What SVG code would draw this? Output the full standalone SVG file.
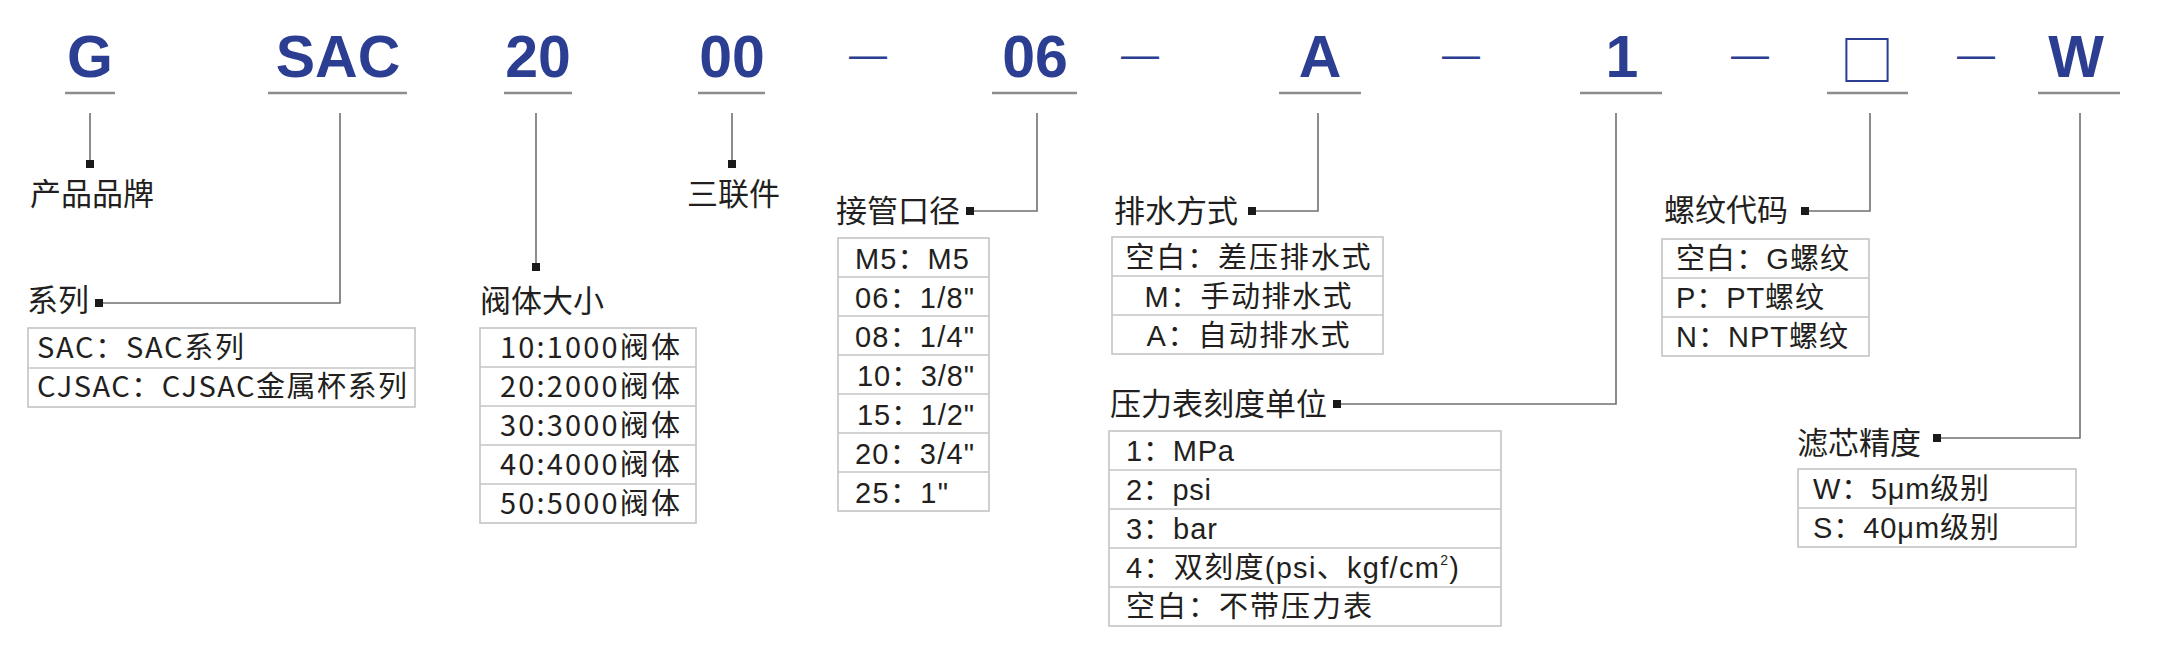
<svg xmlns="http://www.w3.org/2000/svg" width="2180" height="669" viewBox="0 0 2180 669">
<style>
.code{font-family:"Liberation Sans",Arial,sans-serif;font-weight:bold;font-size:59px;fill:#2b3e92;text-anchor:middle}
.dash{font-family:"Liberation Sans",Arial,sans-serif;font-size:38px;fill:#2b3e92;text-anchor:middle}
.box{font-family:"Noto Sans CJK SC",sans-serif;font-size:54px;fill:#2b3e92;text-anchor:middle}
.ul{stroke:#8c8c8c;stroke-width:2.5;fill:none}
.conn{stroke:#707070;stroke-width:1.6;fill:none;marker-end:url(#sq)}
.head{font-family:"Noto Sans CJK SC",sans-serif;font-size:31px;fill:#231f20}
.tbl{fill:#fff;stroke:#c4c4c4;stroke-width:1.6}
.div{stroke:#c4c4c4;stroke-width:1.6}
.t1{font-family:"Noto Sans CJK SC",sans-serif;font-size:29px;fill:#231f20}
.t2{font-family:"Liberation Sans",Arial,"Noto Sans CJK SC",sans-serif;font-size:29px;fill:#231f20}
.mid{text-anchor:middle}
</style>
<defs>
<marker id="sq" viewBox="0 0 8 8" refX="4" refY="4" markerWidth="8" markerHeight="8" markerUnits="userSpaceOnUse" orient="0">
<rect x="0" y="0" width="8" height="8" fill="#1a1a1a"/>
</marker>
</defs>

<g id="code">
<g id="code-G"><text class="code" x="90" y="77">G</text><line class="ul" x1="65" y1="93" x2="115" y2="93"/></g>
<g id="code-SAC"><text class="code" x="338" y="77">SAC</text><line class="ul" x1="268" y1="93" x2="407" y2="93"/></g>
<g id="code-20"><text class="code" x="538" y="77">20</text><line class="ul" x1="504" y1="93" x2="572" y2="93"/></g>
<g id="code-00"><text class="code" x="732" y="77">00</text><line class="ul" x1="698" y1="93" x2="765" y2="93"/></g>
<text class="dash" x="868" y="68">—</text>
<g id="code-06"><text class="code" x="1035" y="77">06</text><line class="ul" x1="992" y1="93" x2="1077" y2="93"/></g>
<text class="dash" x="1140" y="68">—</text>
<g id="code-A"><text class="code" x="1320" y="77">A</text><line class="ul" x1="1279" y1="93" x2="1361" y2="93"/></g>
<text class="dash" x="1461" y="68">—</text>
<g id="code-1"><text class="code" x="1622" y="77">1</text><line class="ul" x1="1580" y1="93" x2="1662" y2="93"/></g>
<text class="dash" x="1750" y="68">—</text>
<g id="code-box"><text class="box" x="1867" y="81">□</text><line class="ul" x1="1827" y1="93" x2="1908" y2="93"/></g>
<text class="dash" x="1976" y="68">—</text>
<g id="code-W"><text class="code" x="2076" y="77">W</text><line class="ul" x1="2038" y1="93" x2="2120" y2="93"/></g>
</g>

<g id="connectors">
<polyline class="conn" points="90,113 90,164"/>
<polyline class="conn" points="340,113 340,303 99,303"/>
<polyline class="conn" points="536,113 536,267"/>
<polyline class="conn" points="732,113 732,164"/>
<polyline class="conn" points="1037,113 1037,211 970,211"/>
<polyline class="conn" points="1318,113 1318,211 1252,211"/>
<polyline class="conn" points="1616,113 1616,404 1337,404"/>
<polyline class="conn" points="1870,113 1870,211 1805,211"/>
<polyline class="conn" points="2080,113 2080,438 1937,438"/>
</g>

<g id="brand"><text class="head" x="30" y="205">产品品牌</text></g>
<g id="triple"><text class="head" x="687" y="205">三联件</text></g>

<g id="series">
<text class="head" x="27" y="311">系列</text>
<rect class="tbl" x="28" y="328" width="387" height="79"/>
<line class="div" x1="28" y1="368" x2="415" y2="368"/>
<text class="t1" x="37" y="358" textLength="207">SAC：SAC系列</text>
<text class="t1" x="37" y="397" textLength="370">CJSAC：CJSAC金属杯系列</text>
</g>

<g id="size">
<text class="head" x="480" y="312">阀体大小</text>
<rect class="tbl" x="480" y="328" width="216" height="195"/>
<line class="div" x1="480" y1="367" x2="696" y2="367"/>
<line class="div" x1="480" y1="406" x2="696" y2="406"/>
<line class="div" x1="480" y1="445" x2="696" y2="445"/>
<line class="div" x1="480" y1="484" x2="696" y2="484"/>
<text class="t1" x="500" y="358" textLength="180">10:1000阀体</text>
<text class="t1" x="500" y="397" textLength="180">20:2000阀体</text>
<text class="t1" x="500" y="436" textLength="180">30:3000阀体</text>
<text class="t1" x="500" y="475" textLength="180">40:4000阀体</text>
<text class="t1" x="500" y="514" textLength="180">50:5000阀体</text>
</g>

<g id="port">
<text class="head" x="836" y="222">接管口径</text>
<rect class="tbl" x="838" y="238" width="151" height="273"/>
<line class="div" x1="838" y1="277" x2="989" y2="277"/>
<line class="div" x1="838" y1="316" x2="989" y2="316"/>
<line class="div" x1="838" y1="355" x2="989" y2="355"/>
<line class="div" x1="838" y1="394" x2="989" y2="394"/>
<line class="div" x1="838" y1="433" x2="989" y2="433"/>
<line class="div" x1="838" y1="472" x2="989" y2="472"/>
<text class="t2" x="855" y="269" textLength="114">M5：M5</text>
<text class="t2" x="855" y="308" textLength="119">06：1/8"</text>
<text class="t2" x="855" y="347" textLength="119">08：1/4"</text>
<text class="t2" x="857" y="386" textLength="117">10：3/8"</text>
<text class="t2" x="857" y="425" textLength="117">15：1/2"</text>
<text class="t2" x="855" y="464" textLength="119">20：3/4"</text>
<text class="t2" x="855" y="503" textLength="93">25：1"</text>
</g>

<g id="drain">
<text class="head" x="1114" y="222">排水方式</text>
<rect class="tbl" x="1112" y="237" width="271" height="117"/>
<line class="div" x1="1112" y1="276" x2="1383" y2="276"/>
<line class="div" x1="1112" y1="315" x2="1383" y2="315"/>
<text class="t2 mid" x="1248" y="268" textLength="245">空白：差压排水式</text>
<text class="t2 mid" x="1248" y="307" textLength="207">M：手动排水式</text>
<text class="t2 mid" x="1248" y="346" textLength="203">A：自动排水式</text>
</g>

<g id="gauge">
<text class="head" x="1110" y="415">压力表刻度单位</text>
<rect class="tbl" x="1109" y="431" width="392" height="195"/>
<line class="div" x1="1109" y1="470" x2="1501" y2="470"/>
<line class="div" x1="1109" y1="509" x2="1501" y2="509"/>
<line class="div" x1="1109" y1="548" x2="1501" y2="548"/>
<line class="div" x1="1109" y1="587" x2="1501" y2="587"/>
<text class="t2" x="1126" y="461" textLength="108">1：MPa</text>
<text class="t2" x="1126" y="500" textLength="85">2：psi</text>
<text class="t2" x="1126" y="539" textLength="91">3：bar</text>
<text class="t2" x="1126" y="578" textLength="333">4：双刻度(psi、kgf/cm<tspan font-size="14" dy="-13">2</tspan><tspan dy="13">)</tspan></text>
<text class="t2" x="1126" y="617" textLength="246">空白：不带压力表</text>
</g>

<g id="thread">
<text class="head" x="1664" y="221">螺纹代码</text>
<rect class="tbl" x="1662" y="239" width="207" height="117"/>
<line class="div" x1="1662" y1="278" x2="1869" y2="278"/>
<line class="div" x1="1662" y1="317" x2="1869" y2="317"/>
<text class="t2" x="1676" y="269" textLength="173">空白：G螺纹</text>
<text class="t2" x="1676" y="308" textLength="148">P：PT螺纹</text>
<text class="t2" x="1676" y="347" textLength="172">N：NPT螺纹</text>
</g>

<g id="filter">
<text class="head" x="1797" y="454">滤芯精度</text>
<rect class="tbl" x="1798" y="469" width="278" height="78"/>
<line class="div" x1="1798" y1="508" x2="2076" y2="508"/>
<text class="t2" x="1813" y="499" textLength="176">W：5μm级别</text>
<text class="t2" x="1813" y="538" textLength="186">S：40μm级别</text>
</g>
</svg>
